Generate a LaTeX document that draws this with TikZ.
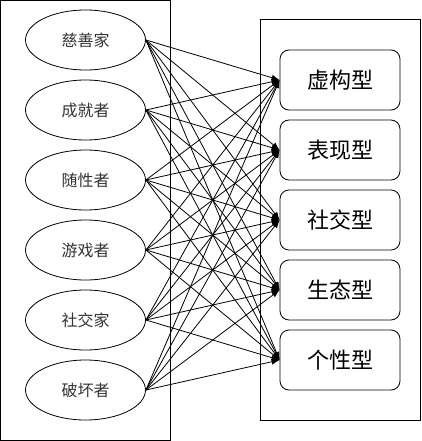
\documentclass[tikz,border=0pt]{standalone}
\usepackage{fontspec}
\setmainfont{Noto Sans CJK SC}
\usetikzlibrary{arrows.meta,shapes.geometric}
\begin{document}
\begin{tikzpicture}[x=1pt,y=-1pt,
  frame/.style={draw=black,line width=1pt},
  role/.style={draw=black,line width=0.8pt,ellipse,minimum width=120pt,minimum height=60pt,inner sep=0pt,font=\fontsize{16}{18}\selectfont,text=black!80},
  kind/.style={draw=black,line width=0.8pt,rounded corners=9pt,minimum width=120pt,minimum height=60pt,inner sep=0pt,font=\fontsize{22}{24}\selectfont},
  link/.style={line width=0.8pt,-{Latex[length=8pt,width=6pt]}}]
\useasboundingbox (0,0) rectangle (421,441);
\fill[white] (0,0) rectangle (421,441);
\draw[frame] (0.5,0.5) rectangle (170,440);
\draw[frame] (260,20) rectangle (420,420);
\foreach \n/\t [count=\i] in {a/慈善家,b/成就者,c/随性者,d/游戏者,e/社交家,f/破坏者}{
  \node[role] (\n) at (85.5,{40+70*(\i-1)}) {\t};
}
\foreach \n/\t [count=\i] in {p/虚构型,q/表现型,r/社交型,s/生态型,t/个性型}{
  \node[kind] (\n) at (340,{80+70*(\i-1)}) {\t};
}
\foreach \u in {a,b,c,d,e,f}{
  \foreach \v in {p,q,r,s,t}{
    \draw[link] (\u.east) -- (\v.west);
  }
}
\end{tikzpicture}
\end{document}
